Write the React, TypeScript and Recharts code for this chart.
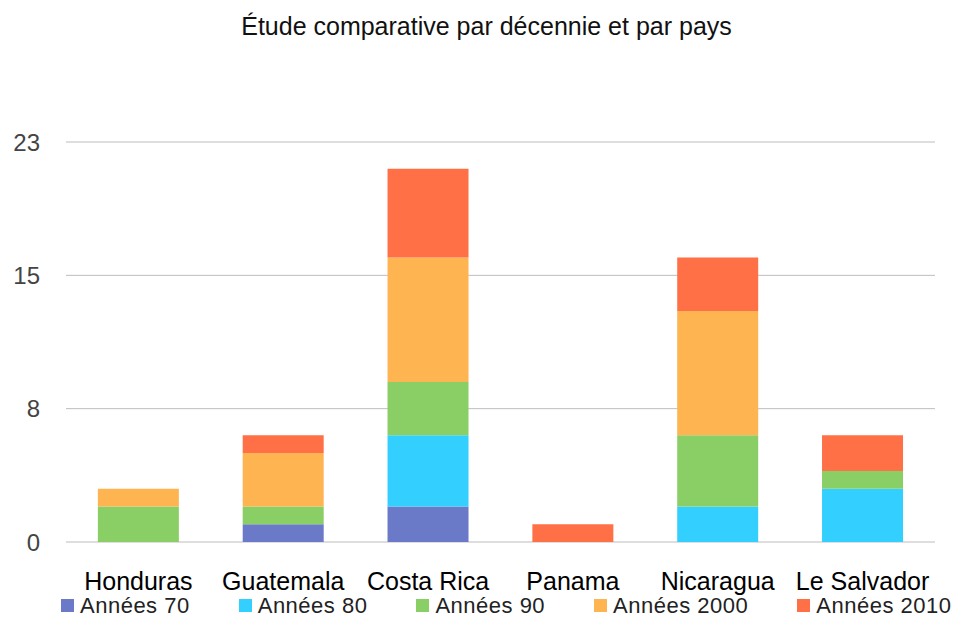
import { Bar, BarChart, CartesianGrid, XAxis, YAxis } from "recharts";

const COUNTRIES = ["Honduras", "Guatemala", "Costa Rica", "Panama", "Nicaragua", "Le Salvador"];
const Y70 = [0, 1, 2, 0, 0, 0];
const Y80 = [0, 0, 4, 0, 2, 3];
const Y90 = [2, 1, 3, 0, 4, 1];
const Y2000 = [1, 3, 7, 0, 7, 0];
const Y2010 = [0, 1, 5, 1, 3, 2];
const Y_TICKS = [0, 7.5, 15, 22.5];

const SERIES = [
  { key: "y70", name: "Années 70", color: "#6B79C9", values: Y70 },
  { key: "y80", name: "Années 80", color: "#33D0FF", values: Y80 },
  { key: "y90", name: "Années 90", color: "#8ACF65", values: Y90 },
  { key: "y2000", name: "Années 2000", color: "#FFB452", values: Y2000 },
  { key: "y2010", name: "Années 2010", color: "#FF7046", values: Y2010 },
];

const data = COUNTRIES.map((name, i) => {
  const row: Record<string, string | number> = { name };
  SERIES.forEach((s) => (row[s.key] = s.values[i]));
  return row;
});

const FONT = "Arial, 'Liberation Sans', Helvetica, sans-serif";

export default function App() {
  return (
    <div
      style={{
        position: "relative",
        width: 963,
        height: 618,
        margin: "-8px 0 0 -8px",
        fontFamily: FONT,
        background: "#fff",
        overflow: "hidden",
      }}
    >
      <div
        style={{
          position: "absolute",
          top: 12,
          left: 0,
          width: 973,
          textAlign: "center",
          fontSize: 25,
          color: "#111",
        }}
      >
        Étude comparative par décennie et par pays
      </div>
      <BarChart
        width={963}
        height={618}
        data={data}
        margin={{ top: 142, right: 28, left: 0, bottom: 0 }}
        barCategoryGap="22%"
      >
        <CartesianGrid vertical={false} stroke="#BDBDBD" strokeWidth={1} />
        <XAxis
          dataKey="name"
          axisLine={false}
          tickLine={false}
          tickSize={0}
          tickMargin={30}
          height={76}
          interval={0}
          tick={{ fill: "#000", fontSize: 25, fontFamily: FONT }}
        />
        <YAxis
          domain={[0, 22.5]}
          ticks={Y_TICKS}
          axisLine={false}
          tickLine={false}
          tickSize={0}
          tickMargin={26}
          width={66}
          tickFormatter={(v: number) => String(Math.round(v))}
          tick={{ fill: "#444", fontSize: 24, fontFamily: FONT }}
        />
        {SERIES.map((s) => (
          <Bar key={s.key} dataKey={s.key} name={s.name} stackId="a" fill={s.color} isAnimationActive={false} />
        ))}
      </BarChart>
      <div
        style={{
          position: "absolute",
          left: 61,
          top: 597,
          display: "flex",
          gap: 49,
          fontSize: 22,
          letterSpacing: 0.5,
          color: "#222",
          lineHeight: "17px",
        }}
      >
        {SERIES.map((s) => (
          <div key={s.key} style={{ display: "flex", alignItems: "center" }}>
            <span style={{ width: 13, height: 13, background: s.color, marginRight: 6, display: "inline-block" }} />
            <span>{s.name}</span>
          </div>
        ))}
      </div>
    </div>
  );
}
